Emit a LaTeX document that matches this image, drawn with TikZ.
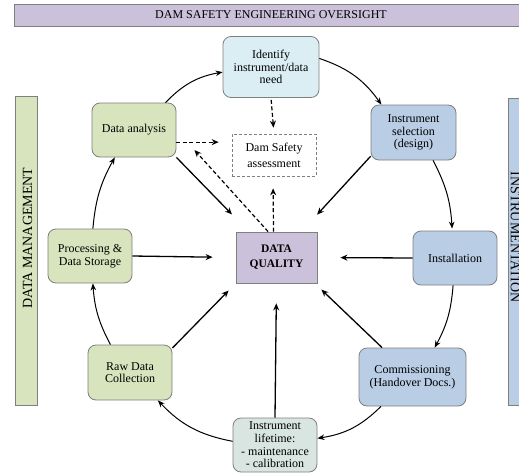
\documentclass[tikz,border=0pt]{standalone}
\usepackage{fontspec}
\setmainfont{Liberation Serif}
\usetikzlibrary{arrows.meta,calc}

\definecolor{bordergray}{HTML}{7F7F7F}
\definecolor{lavender}{HTML}{CCC1DA}
\definecolor{sage}{HTML}{D7E4BD}
\definecolor{paleblue}{HTML}{DBEEF4}
\definecolor{steelblue}{HTML}{B9CDE5}
\definecolor{mint}{HTML}{D8E5E0}

\begin{document}
\begin{tikzpicture}[x=1pt,y=-1pt,
  box/.style={draw=bordergray, line width=0.8pt, rounded corners=8pt, align=center,
    inner sep=2pt, font=\fontsize{12}{12.7}\selectfont,
    minimum width=84pt, minimum height=54pt},
  band/.style={draw=bordergray, line width=0.8pt},
  bandtext/.style={font=\fontsize{14}{16}\selectfont},
  cyc/.style={-{Stealth[length=7pt,width=5.5pt]}, line width=1pt, bend left=18},
  feed/.style={-{Stealth[length=7pt,width=6pt]}, line width=1.3pt},
  dasharrow/.style={-{Stealth[length=7pt,width=6pt]}, line width=1.2pt,
    dash pattern=on 4pt off 2.5pt},
]
\useasboundingbox (0,0) rectangle (519,474);
\clip (0,0) rectangle (519,474);

% side and top bands
\filldraw[band, fill=lavender] (14,4) rectangle (540,26);
\node[font=\fontsize{12}{13}\selectfont] (oversight) at (271,15) {DAM SAFETY ENGINEERING OVERSIGHT};
\filldraw[band, fill=sage] (15,96) rectangle (37,405);
\node[bandtext, rotate=90] (datamgmt) at (27.5,238) {DATA MANAGEMENT};
\filldraw[band, fill=steelblue] (508,98) rectangle (540,405);
\node[bandtext, rotate=-90] (instr) at (515.5,237) {INSTRUMENTATION};

% central node and assessment box
\node[draw=bordergray, line width=0.8pt, fill=lavender, minimum width=81pt, minimum height=51pt,
  align=center, font=\fontsize{11.5}{15}\selectfont\bfseries] (dq) at (276.5,257.5) {DATA\\QUALITY};
\node[draw=bordergray, line width=0.7pt, dash pattern=on 3pt off 2pt, minimum width=84pt,
  minimum height=42pt, align=center, font=\fontsize{12}{16}\selectfont] (ds) at (274,155) {Dam Safety\\assessment};

% cycle steps
\node[box, fill=paleblue, minimum width=96pt, minimum height=61pt] (id) at (271,67) {Identify\\instrument/data\\need};
\node[box, fill=steelblue, minimum width=85pt, minimum height=55pt] (is) at (413.5,132.5) {Instrument\\selection\\(design)};
\node[box, fill=steelblue] (inst) at (455,258) {Installation};
\node[box, fill=steelblue, minimum width=107pt, minimum height=58pt] (com) at (412.5,377) {Commissioning\\(Handover Docs.)};
\node[box, fill=mint] (lt) at (275,445) {Instrument\\lifetime:\\- maintenance\\- calibration};
\node[box, fill=sage, minimum height=55pt] (raw) at (130,372.5) {Raw Data\\Collection};
\node[box, fill=sage] (proc) at (90,256) {Processing \&\\Data Storage};
\node[box, fill=sage] (da) at (134,130) {Data analysis};

% cycle connectors
\draw[cyc] (da.41) to (id.186);
\draw[cyc] (id.10) to (is.139);
\draw[cyc, bend left=12] (is.-55) to ([yshift=2pt]inst.96);
\draw[cyc, bend left=12] (inst.-94) to (com.53);
\draw[cyc] (com.223) to (lt.9);
\draw[cyc] (lt.175) to (raw.-45);
\draw[cyc, bend left=12] (raw.125) to (proc.-84);
\draw[cyc, bend left=12] (proc.84) to (da.235);

% feeds into data quality
\draw[feed, shorten >=24pt] (da.south east) -- (dq.137);
\draw[feed, shorten >=23pt] (is.209) -- (dq.46);
\draw[feed, shorten >=23pt] (inst.west) -- (dq.east);
\draw[feed, shorten >=9pt] (com.136) -- (dq.-34);
\draw[feed, shorten >=20pt] (lt.north) -- (dq.south);
\draw[feed, shorten >=10pt] (raw.30) -- (dq.south west);
\draw[feed, shorten >=23pt] (proc.east) -- (dq.west);

% links to the assessment
\draw[dasharrow, shorten <=2pt, shorten >=6pt] (id.south) -- (ds.north);
\draw[dasharrow, shorten >=13pt] (da.-16) -- (da.-16 -| ds.west);
\draw[dasharrow, shorten >=12pt] ([xshift=-3pt]dq.north) -- ([xshift=-1pt]ds.south);
\draw[dasharrow, shorten >=27pt] (dq.108) -- (da.east);
\end{tikzpicture}
\end{document}
